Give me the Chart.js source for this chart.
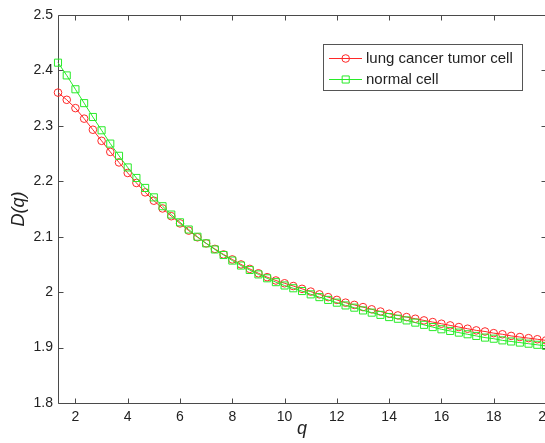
<!DOCTYPE html>
<html>
<head>
<meta charset="utf-8">
<script src="https://cdn.jsdelivr.net/npm/chart.js@4/dist/chart.umd.min.js"></script>
<style>
html, body { margin: 0; padding: 0; background: #fff; overflow: hidden; }
#wrap { width: 560px; height: 443px; }
</style>
</head>
<body>
<div id="wrap"><canvas id="chart" width="560" height="443"></canvas></div>
<script>
// q values (step of 1/3 from 4/3 up to 20)
var qValues = [1.333, 1.667, 2.000, 2.333, 2.667, 3.000, 3.333, 3.667, 4.000, 4.333,
  4.667, 5.000, 5.333, 5.667, 6.000, 6.333, 6.667, 7.000, 7.333, 7.667,
  8.000, 8.333, 8.667, 9.000, 9.333, 9.667, 10.000, 10.333, 10.667, 11.000,
  11.333, 11.667, 12.000, 12.333, 12.667, 13.000, 13.333, 13.667, 14.000, 14.333,
  14.667, 15.000, 15.333, 15.667, 16.000, 16.333, 16.667, 17.000, 17.333, 17.667,
  18.000, 18.333, 18.667, 19.000, 19.333, 19.667, 20.000];

var tumorValues = [2.360, 2.347, 2.332, 2.313, 2.293, 2.273, 2.253, 2.234, 2.215, 2.197,
  2.180, 2.165, 2.151, 2.137, 2.124, 2.111, 2.099, 2.088, 2.078, 2.068,
  2.059, 2.050, 2.042, 2.034, 2.027, 2.021, 2.016, 2.011, 2.006, 2.001,
  1.996, 1.991, 1.986, 1.981, 1.977, 1.973, 1.969, 1.965, 1.961, 1.958,
  1.955, 1.952, 1.949, 1.946, 1.943, 1.940, 1.937, 1.934, 1.931, 1.929,
  1.926, 1.924, 1.921, 1.919, 1.917, 1.915, 1.913];

var normalValues = [2.414, 2.391, 2.366, 2.341, 2.316, 2.292, 2.268, 2.246, 2.225, 2.206,
  2.188, 2.171, 2.155, 2.140, 2.126, 2.113, 2.100, 2.088, 2.077, 2.067,
  2.057, 2.048, 2.040, 2.032, 2.025, 2.018, 2.012, 2.007, 2.002, 1.996,
  1.991, 1.986, 1.981, 1.976, 1.972, 1.967, 1.963, 1.959, 1.955, 1.952,
  1.949, 1.945, 1.941, 1.937, 1.933, 1.930, 1.927, 1.924, 1.921, 1.918,
  1.916, 1.913, 1.911, 1.909, 1.907, 1.905, 1.903];

var xTickValues = [2, 4, 6, 8, 10, 12, 14, 16, 18, 20];
var yTickValues = [1.8, 1.9, 2.0, 2.1, 2.2, 2.3, 2.4, 2.5];

var seriesLabels = ['lung cancer tumor cell', 'normal cell'];

var RED = 'rgb(255,40,40)';
var GREEN = 'rgb(40,235,40)';
var AXIS = '#4a4a4a';
var TEXT = '#222';
var FONT = '"Liberation Sans", Arial, Helvetica, sans-serif';

function toPoints(xs, ys) {
  var pts = [];
  for (var i = 0; i < xs.length; i++) pts.push({x: xs[i], y: ys[i]});
  return pts;
}

// matlab style box with inward ticks
var framePlugin = {
  id: 'frame',
  beforeDatasetsDraw: function(chart) {
    var ctx = chart.ctx, a = chart.chartArea;
    var xs = chart.scales.x, ys = chart.scales.y;
    var tl = 5;
    ctx.save();
    ctx.strokeStyle = AXIS;
    ctx.lineWidth = 1;
    ctx.beginPath();
    var L = Math.round(a.left) + 0.5, R = Math.round(a.right) + 0.5;
    var T = Math.round(a.top) + 0.5, B = Math.round(a.bottom) + 0.5;
    ctx.moveTo(L, T); ctx.lineTo(R, T); ctx.lineTo(R, B); ctx.lineTo(L, B); ctx.closePath();
    for (var i = 0; i < xTickValues.length; i++) {
      var px = Math.round(xs.getPixelForValue(xTickValues[i])) + 0.5;
      ctx.moveTo(px, B); ctx.lineTo(px, B - tl);
      ctx.moveTo(px, T); ctx.lineTo(px, T + tl);
    }
    for (var j = 0; j < yTickValues.length; j++) {
      var py = Math.round(ys.getPixelForValue(yTickValues[j])) + 0.5;
      ctx.moveTo(L, py); ctx.lineTo(L + tl, py);
      ctx.moveTo(R, py); ctx.lineTo(R - tl, py);
    }
    ctx.stroke();
    ctx.restore();
  }
};

// legend box drawn like the matlab one
var legendBoxPlugin = {
  id: 'legendBox',
  afterDraw: function(chart) {
    var ctx = chart.ctx;
    var bx = 323.5, by = 44.5, bw = 199, bh = 46;
    ctx.save();
    ctx.fillStyle = '#fff';
    ctx.fillRect(bx, by, bw, bh);
    ctx.strokeStyle = '#555';
    ctx.lineWidth = 1;
    ctx.strokeRect(bx, by, bw, bh);
    var rows = [58.5, 79.5];
    chart.data.datasets.forEach(function(ds, i) {
      var y = rows[i];
      ctx.strokeStyle = ds.borderColor;
      ctx.lineWidth = 1;
      ctx.beginPath();
      ctx.moveTo(329, y); ctx.lineTo(362, y);
      ctx.stroke();
      ctx.fillStyle = 'rgba(0,0,0,0)';
      Chart.helpers.drawPoint(ctx, {pointStyle: ds.pointStyle, radius: ds.pointRadius, borderWidth: 1}, 345.7, y);
      ctx.fillStyle = TEXT;
      ctx.font = '15px ' + FONT;
      ctx.textBaseline = 'middle';
      ctx.textAlign = 'left';
      ctx.fillText(ds.label, 366, y);
    });
    ctx.restore();
  }
};

var ctx = document.getElementById('chart').getContext('2d');
var chart = new Chart(ctx, {
  type: 'line',
  data: {
    datasets: [{
      label: seriesLabels[0],
      data: toPoints(qValues, tumorValues),
      borderColor: RED,
      backgroundColor: 'rgba(0,0,0,0)',
      borderWidth: 1,
      pointStyle: 'circle',
      pointRadius: 3.8,
      pointBorderWidth: 1,
      pointBorderColor: RED,
      pointBackgroundColor: 'rgba(0,0,0,0)',
      tension: 0,
      clip: 8,
      order: 2
    }, {
      label: seriesLabels[1],
      data: toPoints(qValues, normalValues),
      borderColor: GREEN,
      backgroundColor: 'rgba(0,0,0,0)',
      borderWidth: 1,
      pointStyle: 'rect',
      pointRadius: 5,
      pointBorderWidth: 1,
      pointBorderColor: GREEN,
      pointBackgroundColor: 'rgba(0,0,0,0)',
      tension: 0,
      clip: 8,
      order: 1
    }]
  },
  options: {
    responsive: false,
    animation: false,
    devicePixelRatio: 1,
    layout: { padding: { top: 15, right: 14, left: 0, bottom: 0 } },
    plugins: {
      legend: { display: false },
      tooltip: { enabled: false }
    },
    scales: {
      x: {
        type: 'linear',
        position: 'bottom',
        min: 1.333,
        max: 20,
        grid: { display: false, drawTicks: false },
        border: { display: false },
        ticks: {
          color: TEXT,
          font: { family: FONT, size: 14 },
          padding: 6,
          maxRotation: 0
        },
        afterBuildTicks: function(scale) {
          scale.ticks = xTickValues.map(function(v) { return {value: v}; });
        },
        afterFit: function(scale) { scale.height = 40; },
        title: {
          display: true,
          text: 'q',
          color: TEXT,
          font: { family: FONT, size: 18, style: 'italic' },
          padding: { top: 0, bottom: 3 }
        }
      },
      y: {
        type: 'linear',
        min: 1.8,
        max: 2.5,
        grid: { display: false, drawTicks: false },
        border: { display: false },
        ticks: {
          color: TEXT,
          font: { family: FONT, size: 14 },
          padding: 5,
          callback: function(v) { return String(+v.toFixed(1)); }
        },
        afterBuildTicks: function(scale) {
          scale.ticks = yTickValues.map(function(v) { return {value: v}; });
        },
        afterFit: function(scale) { scale.width = 58; },
        title: {
          display: true,
          text: 'D(q)',
          color: TEXT,
          font: { family: FONT, size: 18, style: 'italic' },
          padding: { top: 8, bottom: 0 }
        }
      }
    }
  },
  plugins: [framePlugin, legendBoxPlugin]
});
</script>
</body>
</html>
